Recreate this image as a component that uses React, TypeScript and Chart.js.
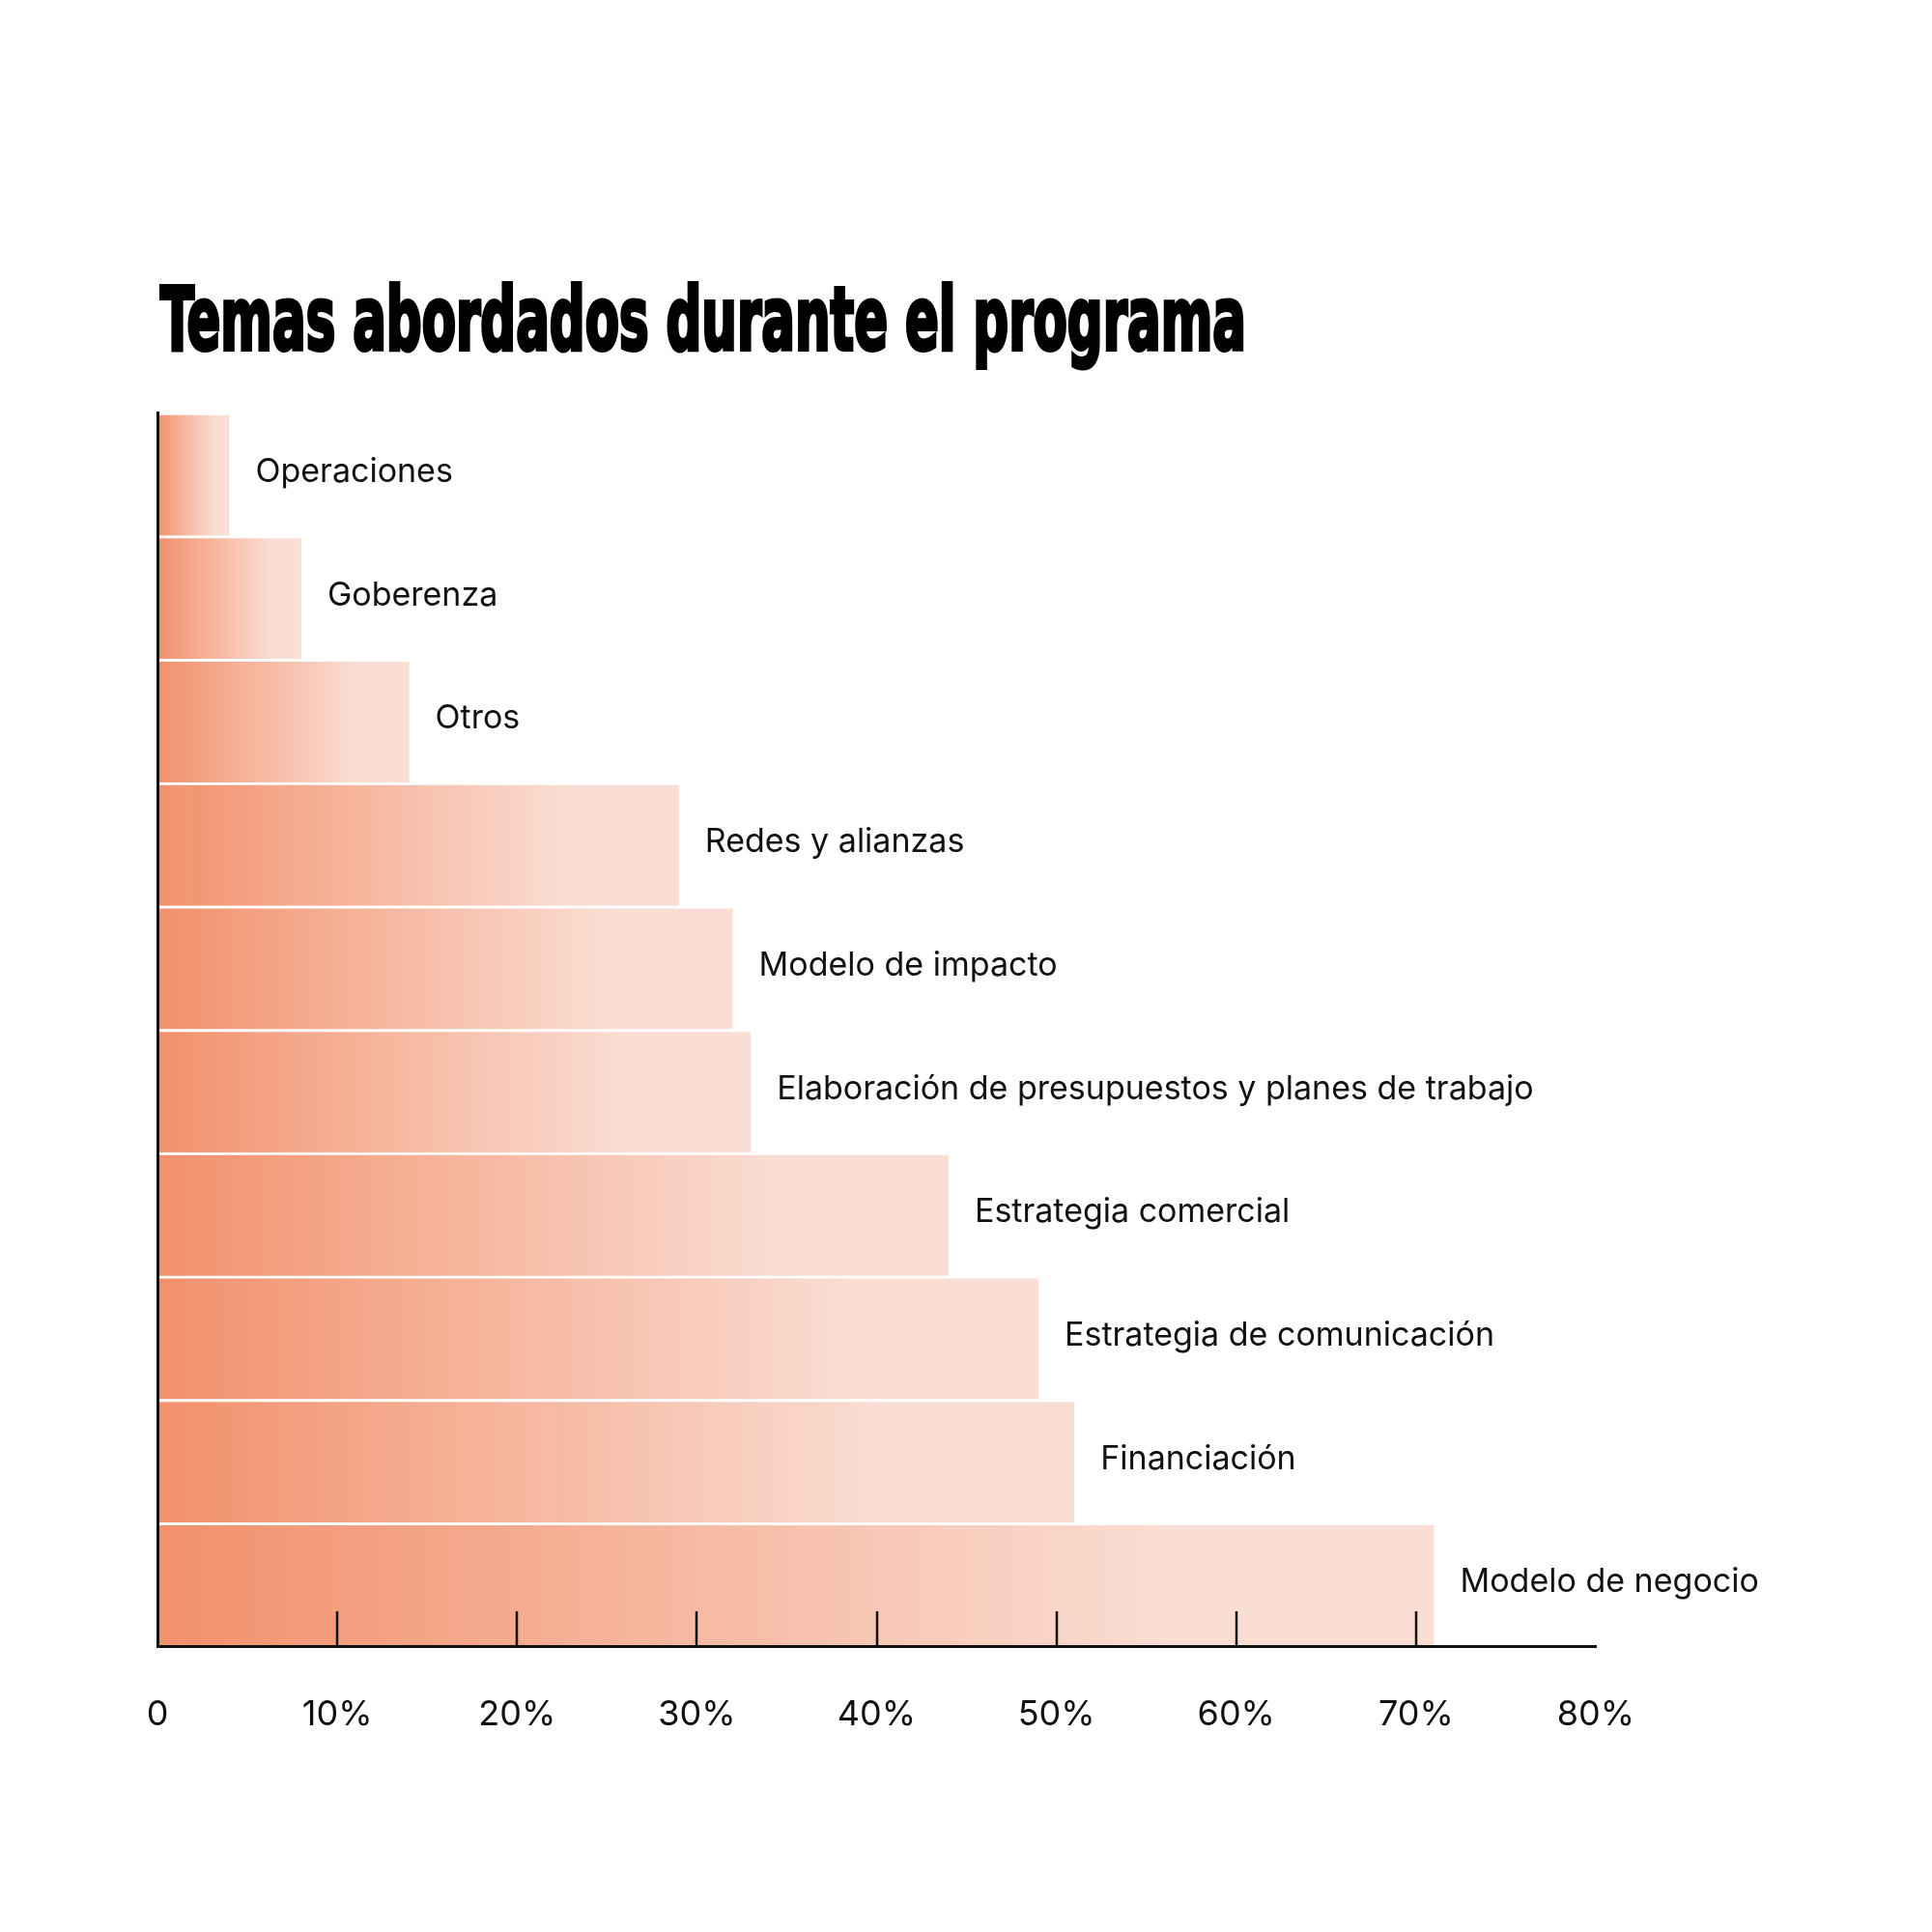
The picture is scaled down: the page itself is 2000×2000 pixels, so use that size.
import React, { useEffect, useRef } from 'react';
import { Chart, registerables } from 'chart.js';

Chart.register(...registerables);

const TITLE = 'Temas abordados durante el programa';
const categories = [
  'Operaciones',
  'Goberenza',
  'Otros',
  'Redes y alianzas',
  'Modelo de impacto',
  'Elaboración de presupuestos y planes de trabajo',
  'Estrategia comercial',
  'Estrategia de comunicación',
  'Financiación',
  'Modelo de negocio',
];
const values = [4, 8, 14, 29, 32, 33, 44, 49, 51, 71];
const xTickLabels = ['0', '10%', '20%', '30%', '40%', '50%', '60%', '70%', '80%'];

const DARK = '#F2906B';
const LIGHT = '#FADDD3';
const INK = '#111111';

const overlayPlugin = {
  id: 'overlay',
  afterDatasetsDraw(chart: any) {
    const { ctx, scales, chartArea } = chart;
    const x = scales.x;
    ctx.save();
    // inward tick marks (inner ticks only)
    ctx.strokeStyle = INK;
    ctx.lineWidth = 2.5;
    x.ticks.forEach((t: any, i: number) => {
      if (i === 0 || i === x.ticks.length - 1) return;
      const px = Math.round(x.getPixelForValue(t.value));
      ctx.beginPath();
      ctx.moveTo(px, chartArea.bottom);
      ctx.lineTo(px, chartArea.bottom - 36);
      ctx.stroke();
    });
    // category labels at bar ends
    ctx.font = '34px Inter';
    ctx.fillStyle = INK;
    ctx.textBaseline = 'middle';
    ctx.textAlign = 'left';
    const meta = chart.getDatasetMeta(0);
    meta.data.forEach((bar: any, i: number) => {
      ctx.fillText(categories[i], bar.x + 27, bar.y - 2);
    });
    ctx.restore();
  },
  afterDraw(chart: any) {
    const { ctx, chartArea } = chart;
    ctx.save();
    ctx.font = 'bold 90px "DejaVu Sans Condensed", "DejaVu Sans", sans-serif';
    ctx.fillStyle = '#000';
    ctx.strokeStyle = '#000';
    ctx.textBaseline = 'alphabetic';
    ctx.textAlign = 'left';
    const w = ctx.measureText(TITLE).width;
    const targetW = 1124;
    ctx.translate(chartArea.left + 3, 362);
    ctx.scale(targetW / w, 1);
    ctx.lineWidth = 4;
    ctx.lineJoin = 'miter';
    ctx.fillText(TITLE, 0, 0);
    ctx.strokeText(TITLE, 0, 0);
    ctx.restore();
  },
};

export default function App() {
  const ref = useRef<HTMLCanvasElement>(null);
  useEffect(() => {
    if (!ref.current) return;
    const chart = new Chart(ref.current, {
      type: 'bar',
      data: {
        labels: categories,
        datasets: [
          {
            data: values,
            backgroundColor: (c: any) => {
              const ch = c.chart;
              const { chartArea, scales } = ch;
              if (!chartArea || c.type !== 'data' || !scales.x) return LIGHT;
              const x0 = scales.x.getPixelForValue(0);
              const x1 = scales.x.getPixelForValue(c.parsed ? c.parsed.x : values[c.dataIndex]);
              const g = ch.ctx.createLinearGradient(x0, 0, x1, 0);
              g.addColorStop(0, DARK);
              g.addColorStop(0.79, LIGHT);
              g.addColorStop(1, LIGHT);
              return g;
            },
            borderColor: '#ffffff',
            borderWidth: { top: 3, bottom: 0, left: 0, right: 0 },
            borderSkipped: false,
            barPercentage: 1,
            categoryPercentage: 1,
          },
        ],
      },
      options: {
        indexAxis: 'y',
        animation: false,
        responsive: false,
        devicePixelRatio: 1,
        layout: { padding: { left: 163, top: 427, right: 348, bottom: 211 } },
        plugins: {
          legend: { display: false },
          tooltip: { enabled: false },
          title: { display: false },
        },
        scales: {
          x: {
            min: 0,
            max: 80,
            grid: { display: false },
            border: { display: true, color: INK, width: 3, z: 2 },
            ticks: {
              stepSize: 10,
              padding: 42,
              color: INK,
              font: { family: 'Inter', size: 36 },
              callback: (_v: any, i: number) => xTickLabels[i],
            },
            afterFit: (s: any) => {
              s.height = 85;
              s.paddingLeft = 0;
              s.paddingRight = 0;
            },
          },
          y: {
            grid: { display: false },
            border: { display: true, color: INK, width: 3, z: 2 },
            ticks: { display: false },
            afterFit: (s: any) => {
              s.width = 0;
              s.paddingTop = 0;
              s.paddingBottom = 0;
            },
          },
        },
      },
      plugins: [overlayPlugin],
    } as any);
    return () => chart.destroy();
  }, []);
  return (
    <div style={{ position: 'absolute', left: 0, top: 0, width: 2000, height: 2000, background: '#fff' }}>
      <canvas ref={ref} width={2000} height={2000} style={{ width: 2000, height: 2000, display: 'block' }} />
    </div>
  );
}
